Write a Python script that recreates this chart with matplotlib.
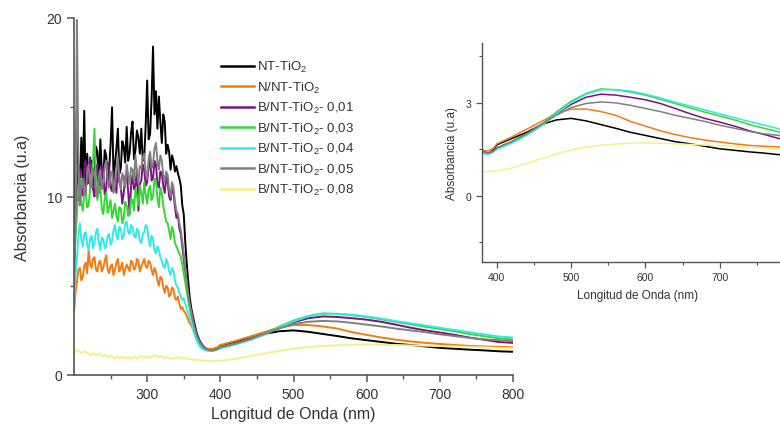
import matplotlib
matplotlib.use("Agg")
import matplotlib.pyplot as plt
from matplotlib.ticker import FixedLocator

plt.rcParams['font.family'] = ['Liberation Sans', 'DejaVu Sans']
plt.rcParams['mathtext.default'] = 'regular'

# ---- wavelength grid (nm) ----
wl_uv = list(range(200, 362, 2))          # 200..360 every 2 nm (81 points)
wl_edge = [364, 368, 372, 376, 380, 384, 388, 392, 396, 400]
wl_vis = [420, 440, 460, 480, 500, 520, 540, 560, 580, 600, 620, 640, 660, 680, 700,
          720, 740, 760, 780, 800]
wavelength = wl_uv + wl_edge + wl_vis

labels = ['NT-TiO$_2$', 'N/NT-TiO$_2$', 'B/NT-TiO$_2$- 0,01', 'B/NT-TiO$_2$- 0,03',
          'B/NT-TiO$_2$- 0,04', 'B/NT-TiO$_2$- 0,05', 'B/NT-TiO$_2$- 0,08']
colors = ['#000000', '#f07c14', '#7a1283', '#36d636', '#35e8e8', '#808080', '#f6f08a']

nt = [8.5, 12.0, 15.1, 9.8, 10.5, 13.3, 11.0, 14.8, 10.2, 12.4,
      10.8, 11.5, 12.0, 10.6, 11.2, 12.8, 12.5, 10.9, 13.2, 11.4,
      11.0, 12.6, 12.3, 10.8, 11.5, 12.9, 15.0, 11.2, 11.8, 12.7,
      13.8, 11.3, 11.6, 13.1, 12.8, 11.9, 13.9, 12.0, 12.4, 13.6,
      14.2, 12.1, 12.6, 13.7, 13.3, 12.4, 13.8, 12.0, 12.2, 14.0,
      16.5, 13.2, 13.5, 15.4, 18.4, 14.6, 15.9, 13.8, 15.6, 14.2,
      13.0, 14.6, 14.2, 12.4, 12.9, 12.5, 11.5, 12.3, 12.0, 11.4,
      11.7, 11.3, 11.0, 10.6, 9.5, 9.0, 7.5, 6.3, 5.3, 4.4,
      3.8,
      3.0, 2.3, 1.9, 1.65, 1.5, 1.42, 1.38, 1.42, 1.5, 1.65,
      1.85, 2.05, 2.3, 2.45, 2.5, 2.42, 2.3, 2.18, 2.05, 1.95, 1.85, 1.75, 1.68, 1.6, 1.52,
      1.47, 1.42, 1.38, 1.33, 1.3]
n_nt = [3.5, 4.6, 5.2, 5.9, 6.0, 5.3, 5.5, 6.1, 6.3, 5.7,
        7.0, 6.2, 6.0, 6.5, 6.6, 5.9, 5.8, 6.3, 6.4, 5.8,
        6.0, 6.4, 6.7, 5.9, 5.7, 6.1, 6.2, 5.6, 5.9, 6.3,
        6.5, 5.8, 6.0, 6.3, 5.6, 5.9, 6.2, 6.0, 5.8, 6.4,
        6.3, 5.9, 6.0, 6.5, 6.4, 5.8, 6.1, 6.3, 6.5, 6.1,
        6.0, 6.4, 6.3, 5.9, 5.6, 6.0, 5.8, 5.3, 5.0, 5.5,
        5.4, 4.9, 4.6, 5.0, 4.9, 4.4, 4.5, 4.9, 4.8, 4.3,
        4.2, 4.4, 4.0, 3.7, 3.8, 3.6, 3.5, 3.3, 3.1, 2.9,
        2.8,
        2.4, 2.0, 1.75, 1.6, 1.5, 1.45, 1.45, 1.5, 1.55, 1.68,
        1.9, 2.15, 2.4, 2.65, 2.8, 2.8, 2.72, 2.6, 2.4, 2.25, 2.1, 1.98, 1.88, 1.8, 1.74,
        1.68, 1.63, 1.6, 1.58, 1.55]
b001 = [6.0, 8.5, 10.5, 11.8, 11.5, 10.0, 10.2, 11.4, 12.0, 10.7,
        10.8, 12.2, 11.5, 10.4, 10.0, 11.3, 11.8, 10.2, 10.6, 11.7,
        11.2, 10.1, 10.4, 11.9, 11.6, 10.5, 10.3, 11.4, 11.0, 10.2,
        11.9, 10.8, 10.5, 9.6, 10.2, 11.1, 11.4, 10.3, 9.0, 10.6,
        11.2, 10.4, 10.6, 11.5, 9.2, 10.7, 10.9, 11.8, 11.5, 10.6,
        10.8, 11.6, 12.2, 10.9, 11.0, 12.0, 11.8, 10.7, 10.5, 11.4,
        11.3, 10.6, 10.2, 11.1, 10.8, 10.0, 9.8, 10.5, 10.2, 9.4,
        8.8, 9.0, 8.2, 7.9, 7.2, 6.5, 5.8, 5.1, 4.5, 3.9,
        3.5,
        2.7, 2.1, 1.8, 1.58, 1.45, 1.4, 1.38, 1.4, 1.45, 1.55,
        1.75, 2.0, 2.3, 2.65, 2.95, 3.18, 3.28, 3.25, 3.18, 3.1, 2.98, 2.82, 2.65, 2.5, 2.38,
        2.25, 2.1, 1.98, 1.85, 1.8]
b003 = [5.5, 7.8, 9.0, 10.6, 11.0, 9.6, 9.2, 10.1, 10.3, 9.4,
        9.5, 10.4, 11.0, 12.0, 13.8, 10.3, 9.8, 10.6, 10.5, 9.3,
        9.0, 9.9, 10.2, 9.1, 9.4, 9.8, 8.8, 9.2, 9.6, 8.9,
        8.6, 9.4, 9.3, 8.5, 8.8, 9.7, 9.5, 8.9, 9.0, 9.9,
        9.8, 9.2, 10.4, 10.0, 9.5, 10.6, 10.2, 9.6, 10.8, 10.1,
        9.6, 10.4, 10.6, 9.8, 10.0, 11.0, 10.9, 9.9, 9.4, 10.5,
        10.2, 9.5, 9.0, 8.6, 8.5, 8.1, 7.6, 8.3, 8.0, 7.4,
        7.2, 7.0, 6.8, 6.6, 6.2, 5.7, 5.2, 4.7, 4.2, 3.8,
        3.4,
        2.6, 2.0, 1.7, 1.52, 1.42, 1.38, 1.36, 1.38, 1.45, 1.55,
        1.75, 2.0, 2.3, 2.7, 3.05, 3.3, 3.45, 3.42, 3.35, 3.25, 3.12, 2.98, 2.84, 2.7, 2.58,
        2.45, 2.3, 2.18, 2.06, 2.0]
b004 = [4.0, 5.6, 6.5, 7.8, 8.5, 7.6, 7.2, 7.9, 8.0, 7.3,
        7.0, 7.6, 7.8, 7.1, 7.4, 8.0, 8.2, 7.4, 7.0, 7.7,
        7.6, 7.1, 7.2, 7.8, 7.9, 7.3, 7.5, 8.1, 8.4, 7.8,
        7.6, 8.3, 8.2, 7.6, 7.8, 8.5, 8.6, 8.0, 7.9, 8.4,
        8.3, 7.8, 7.7, 8.2, 8.1, 7.5, 7.4, 7.9, 8.0, 8.4,
        8.3, 7.6, 7.2, 7.8, 7.6, 7.0, 6.8, 7.2, 7.0, 6.6,
        6.4, 6.1, 6.0, 6.5, 6.3, 5.8, 5.6, 6.0, 5.8, 5.3,
        5.0, 4.9, 4.6, 4.4, 4.2, 4.3, 4.0, 3.7, 3.5, 3.2,
        3.0,
        2.4, 1.9, 1.6, 1.45, 1.38, 1.35, 1.35, 1.38, 1.43, 1.5,
        1.7, 1.95, 2.25, 2.65, 3.0, 3.28, 3.42, 3.43, 3.38, 3.28, 3.16, 3.02, 2.9, 2.77, 2.65,
        2.52, 2.4, 2.28, 2.16, 2.1]
b005 = [5.0, 8.0, 19.9, 12.0, 9.5, 10.8, 11.0, 10.1, 10.2, 11.4,
        11.8, 10.6, 10.5, 11.6, 11.2, 10.3, 10.0, 11.1, 11.5, 10.4,
        10.8, 11.7, 12.0, 10.9, 10.5, 11.4, 11.3, 10.2, 10.6, 11.5,
        12.2, 11.0, 10.4, 11.3, 11.0, 10.5, 11.8, 11.2, 10.7, 11.6,
        11.5, 10.9, 12.3, 11.4, 10.8, 11.7, 11.6, 12.2, 12.4, 11.3,
        11.0, 12.1, 12.5, 11.6, 11.8, 12.7, 13.0, 12.0, 11.5, 12.3,
        12.0, 11.2, 10.8, 11.4, 11.2, 10.4, 10.0, 10.8, 10.5, 9.7,
        9.2, 9.0, 8.5, 8.1, 7.5, 6.8, 6.0, 5.3, 4.6, 4.0,
        3.6,
        2.8, 2.2, 1.85, 1.6, 1.45, 1.4, 1.38, 1.4, 1.45, 1.55,
        1.75, 2.0, 2.3, 2.6, 2.85, 2.98, 3.03, 3.0, 2.92, 2.82, 2.72, 2.6, 2.5, 2.4, 2.28,
        2.18, 2.08, 2.0, 1.95, 1.9]
b008 = [1.2, 1.35, 1.4, 1.32, 1.3, 1.22, 1.25, 1.33, 1.3, 1.24,
        1.2, 1.12, 1.15, 1.22, 1.2, 1.1, 1.1, 1.18, 1.15, 1.06,
        1.05, 1.12, 1.1, 1.02, 1.0, 1.08, 1.05, 0.97, 0.95, 1.03,
        1.0, 0.94, 0.95, 1.02, 1.0, 0.93, 0.92, 0.99, 0.98, 0.93,
        0.95, 1.02, 1.0, 0.94, 0.95, 1.04, 1.05, 0.97, 0.98, 1.04,
        1.02, 0.96, 0.95, 1.03, 1.05, 1.12, 1.1, 1.02, 1.0, 1.06,
        1.05, 0.98, 0.95, 1.01, 1.0, 0.94, 0.95, 0.92, 0.9, 0.96,
        0.95, 1.0, 1.0, 0.94, 0.92, 0.97, 0.95, 0.91, 0.9, 0.89,
        0.88,
        0.85, 0.84, 0.82, 0.8, 0.8, 0.78, 0.78, 0.8, 0.8, 0.8,
        0.9, 1.05, 1.2, 1.35, 1.48, 1.57, 1.63, 1.67, 1.7, 1.71, 1.7, 1.68, 1.66, 1.64, 1.62,
        1.6, 1.57, 1.55, 1.52, 1.5]
series = [nt, n_nt, b001, b003, b004, b005, b008]

text_color = '#333333'
spine_color = '#555555'

fig = plt.figure(figsize=(7.8, 4.27), dpi=100)

# ---- main axes ----
ax = fig.add_axes([74/780, 1-376/427, (513-74)/780, (376-19)/427])
for s, c, l in zip(series, colors, labels):
    ax.plot(wavelength, s, color=c, lw=1.4, label=l)
ax.set_xlim(200, 800)
ax.set_ylim(0, 20)
ax.xaxis.set_major_locator(FixedLocator([300, 400, 500, 600, 700, 800]))
ax.xaxis.set_minor_locator(FixedLocator([250, 350, 450, 550, 650, 750]))
ax.yaxis.set_major_locator(FixedLocator([0, 10, 20]))
ax.yaxis.set_minor_locator(FixedLocator([5, 15]))
for side in ['top', 'right']:
    ax.spines[side].set_visible(False)
for side in ['left', 'bottom']:
    ax.spines[side].set_color(spine_color)
    ax.spines[side].set_linewidth(1.2)
ax.tick_params(which='major', direction='out', length=5, width=1.1, color=spine_color,
               labelsize=10, labelcolor=text_color)
ax.tick_params(which='minor', direction='out', length=3, width=1.0, color=spine_color)
ax.set_xlabel('Longitud de Onda (nm)', fontsize=11.5, color=text_color, labelpad=4)
ax.set_ylabel('Absorbancia (u.a)', fontsize=11.5, color=text_color, labelpad=12)

leg = ax.legend(loc='upper left', bbox_to_anchor=(216/780, 1-55/427), bbox_transform=fig.transFigure,
                frameon=False, fontsize=9.5, handlelength=2.5, handletextpad=0.2,
                labelspacing=0.41, borderaxespad=0)
for t in leg.get_texts():
    t.set_color(text_color)
for h in leg.get_lines():
    h.set_linewidth(1.8)

# ---- inset axes ----
axi = fig.add_axes([482/780, 1-263/427, (794-482)/780, (263-44)/427])
for s, c in zip(series, colors):
    axi.plot(wavelength, s, color=c, lw=1.1)
axi.set_xlim(380, 800)
axi.set_ylim(-2.13, 4.93)
axi.xaxis.set_major_locator(FixedLocator([400, 500, 600, 700]))
axi.xaxis.set_minor_locator(FixedLocator([450, 550, 650, 750]))
axi.yaxis.set_major_locator(FixedLocator([0, 3]))
axi.yaxis.set_minor_locator(FixedLocator([-1.5, 1.5, 4.5]))
for side in ['top', 'right']:
    axi.spines[side].set_visible(False)
for side in ['left', 'bottom']:
    axi.spines[side].set_color(spine_color)
    axi.spines[side].set_linewidth(1.0)
axi.tick_params(which='major', direction='out', length=4, width=0.9, color=spine_color,
                labelsize=7.5, labelcolor=text_color)
axi.tick_params(which='minor', direction='out', length=2.5, width=0.8, color=spine_color)
axi.set_xlabel('Longitud de Onda (nm)', fontsize=8.5, color=text_color, labelpad=5)
axi.set_ylabel('Absorbancia (u.a)', fontsize=8.5, color=text_color, labelpad=6)

fig.savefig('out.png', dpi=100)
